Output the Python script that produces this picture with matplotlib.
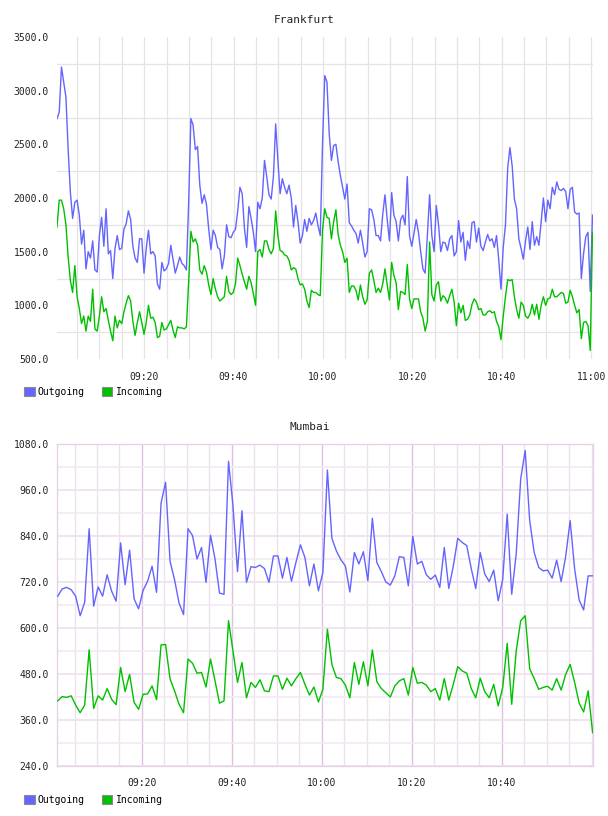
import matplotlib
matplotlib.use("Agg")
import matplotlib.pyplot as plt
import matplotlib.dates as mdates
from matplotlib.patches import Patch
from matplotlib.ticker import FixedLocator, FormatStrFormatter
import numpy as np
import pandas as pd

BLUE = '#6464ff'
GREEN = '#00c000'
MONO = 'DejaVu Sans Mono'

# Frankfurt, one sample every ~30 s from 09:00:30 to 11:00
frankfurt_out = [
    2740, 2800, 3220, 3080, 2940, 2450, 2050, 1810, 1960, 1980,
    1840, 1570, 1700, 1340, 1500, 1440, 1600, 1330, 1310, 1650,
    1820, 1550, 1900, 1480, 1510, 1250, 1530, 1650, 1520, 1530,
    1710, 1760, 1880, 1800, 1550, 1440, 1400, 1620, 1620, 1300,
    1530, 1700, 1480, 1500, 1460, 1200, 1150, 1400, 1320, 1340,
    1390, 1560, 1430, 1300, 1370, 1450, 1390, 1370, 1330, 1950,
    2740, 2680, 2450, 2480, 2120, 1950, 2030, 1940, 1710, 1520,
    1700, 1650, 1540, 1520, 1340, 1460, 1750, 1640, 1630, 1680,
    1710, 1880, 2100, 2040, 1720, 1540, 1920, 1810, 1680, 1500,
    1960, 1900, 2000, 2350, 2200, 2030, 1990, 2200, 2690, 2350,
    2040, 2180, 2100, 2040, 2120, 2000, 1730, 1930, 1780, 1580,
    1650, 1800, 1690, 1810, 1750, 1790, 1860, 1740, 1650, 2500,
    3140, 3080, 2600, 2350, 2490, 2500, 2340, 2210, 2100, 1990,
    2130, 1770, 1740, 1700, 1670, 1580, 1700, 1580, 1450, 1500,
    1900, 1890, 1800, 1650, 1650, 1600, 1850, 2030, 1800, 1600,
    2050, 1840, 1780, 1600, 1800, 1840, 1750, 2200, 1650, 1550,
    1670, 1800, 1680, 1500, 1340, 1300, 1650, 2030, 1650, 1500,
    1930, 1750, 1500, 1590, 1580, 1510, 1620, 1650, 1460, 1500,
    1790, 1590, 1680, 1420, 1600, 1530, 1770, 1780, 1590, 1720,
    1550, 1510, 1590, 1660, 1600, 1620, 1540, 1650, 1420, 1150,
    1540, 1750, 2280, 2470, 2300, 1990, 1900, 1620, 1530, 1430,
    1600, 1730, 1520, 1780, 1560, 1640, 1560, 1780, 2000, 1780,
    1980, 1900, 2100, 2030, 2150, 2080, 2070, 2090, 2060, 1900,
    2080, 2100, 1870, 1850, 1860, 1250, 1480, 1640, 1680, 1130, 1840,
]
frankfurt_in = [
    1730, 1980, 1980, 1900, 1750, 1450, 1230, 1120, 1370, 1080,
    970, 830, 900, 760, 900, 850, 1150, 780, 760, 900,
    1080, 940, 970, 860, 760, 670, 900, 790, 860, 830,
    940, 1020, 1090, 1040, 850, 720, 840, 940, 840, 730,
    840, 1000, 880, 890, 840, 700, 710, 840, 770, 780,
    820, 860, 770, 700, 800, 790, 790, 780, 800, 1220,
    1690, 1590, 1620, 1560, 1330, 1290, 1370, 1310, 1190, 1100,
    1250, 1150, 1080, 1040, 1060, 1080, 1270, 1130, 1100, 1120,
    1200, 1440, 1370, 1290, 1220, 1150, 1270, 1210, 1110, 1000,
    1500, 1520, 1450, 1600, 1600, 1520, 1480, 1530, 1880, 1650,
    1510, 1500, 1470, 1460, 1420, 1330, 1350, 1340, 1250, 1190,
    1200, 1150, 1040, 980, 1140, 1120, 1120, 1100, 1090, 1700,
    1900, 1820, 1810, 1620, 1780, 1890, 1660, 1560, 1500, 1400,
    1440, 1120, 1180, 1180, 1140, 1050, 1190, 1080, 1010, 1050,
    1300, 1330, 1230, 1120, 1160, 1120, 1200, 1340, 1190, 1050,
    1400, 1280, 1210, 960, 1130, 1120, 1100, 1380, 1060, 970,
    1060, 1060, 1060, 940, 880, 760, 850, 1590, 1100, 1040,
    1190, 1220, 1040, 1090, 1070, 1020, 1090, 1150, 1030, 810,
    1020, 930, 1000, 860, 870, 910, 1010, 1060, 1030, 960,
    970, 910, 910, 940, 950, 930, 940, 850, 800, 680,
    900, 1080, 1240, 1230, 1240, 1080, 960, 880, 1030, 1000,
    900, 880, 920, 1010, 910, 1010, 870, 1000, 1080, 1000,
    1060, 1070, 1150, 1080, 1080, 1100, 1120, 1110, 1020, 1030,
    1140, 1080, 1000, 930, 960, 690, 840, 850, 810, 580, 1680,
]

# Mumbai, one sample per minute from 09:01 to 11:00
mumbai_out = [
    683, 702, 706, 700, 683, 632, 667, 859, 657, 707,
    683, 739, 696, 670, 822, 713, 803, 676, 650, 698,
    722, 761, 693, 926, 980, 774, 726, 665, 635, 859,
    841, 780, 810, 719, 842, 780, 691, 688, 1035, 919,
    747, 906, 719, 760, 758, 764, 755, 719, 788, 788,
    730, 784, 722, 771, 817, 784, 710, 767, 697, 745,
    1012, 834, 801, 778, 762, 694, 797, 767, 799, 723,
    886, 771, 747, 720, 712, 736, 786, 784, 710, 839,
    767, 774, 739, 727, 738, 706, 810, 703, 761, 834,
    823, 815, 755, 703, 797, 741, 721, 751, 671, 727,
    897, 688, 793, 989, 1063, 880, 797, 758, 749, 751,
    730, 777, 721, 786, 880, 754, 673, 647, 736, 736,
]
mumbai_in = [
    410, 421, 419, 423, 399, 379, 399, 543, 390, 423,
    412, 442, 414, 400, 497, 434, 479, 406, 388, 427,
    428, 449, 413, 556, 557, 467, 436, 401, 379, 519,
    508, 482, 484, 446, 519, 462, 404, 410, 619, 540,
    458, 510, 418, 458, 445, 465, 436, 434, 475, 475,
    440, 469, 449, 468, 484, 453, 425, 446, 407, 440,
    597, 505, 471, 468, 451, 418, 510, 453, 512, 449,
    543, 460, 442, 431, 420, 449, 462, 468, 425, 497,
    456, 458, 451, 434, 442, 412, 468, 412, 453, 499,
    488, 482, 442, 418, 469, 434, 418, 453, 397, 445,
    560, 401, 540, 619, 632, 494, 468, 440, 445, 448,
    438, 468, 438, 479, 505, 458, 404, 381, 436, 327,
]

series_names = ['Outgoing', 'Incoming']

day = '2014-03-10 '
fra_times = pd.date_range(day + '09:00:30', day + '11:00:18', periods=len(frankfurt_out))
mum_times = pd.date_range(day + '09:01:15', day + '11:00:15', periods=len(mumbai_out))


def t(s):
    return mdates.date2num(pd.Timestamp(day + s))


fig = plt.figure(figsize=(6.08, 8.16), dpi=100)
ax1 = fig.add_axes([57 / 608, 1 - 359 / 816, 536 / 608, 322 / 816])
ax2 = fig.add_axes([57 / 608, 1 - 766 / 816, 536 / 608, 322 / 816])

for ax, title, title_x, times, out, inc in [
        (ax1, 'Frankfurt', 0.461, fra_times, frankfurt_out, frankfurt_in),
        (ax2, 'Mumbai', 0.472, mum_times, mumbai_out, mumbai_in)]:
    ax.plot(times, out, color=BLUE, linewidth=1.0, zorder=3)
    ax.plot(times, inc, color=GREEN, linewidth=1.0, zorder=3)
    ax.set_title(title, fontsize=8, family=MONO, color='#222222', pad=10, x=title_x)
    ax.xaxis.set_major_formatter(mdates.DateFormatter('%H:%M'))
    ax.xaxis.set_minor_locator(mdates.MinuteLocator(byminute=range(0, 60, 5)))
    ax.yaxis.set_major_formatter(FormatStrFormatter('%.1f'))
    ax.tick_params(which='both', length=0, labelsize=7, labelcolor='#222222')
    ax.tick_params(axis='y', pad=6)
    ax.tick_params(axis='x', pad=9)
    for lab in ax.get_xticklabels() + ax.get_yticklabels():
        lab.set_family(MONO)
    ax.set_axisbelow(True)

# Frankfurt styling
ax1.set_xlim(t('09:00:30'), t('11:00:25'))
ax1.set_ylim(500, 3500)
ax1.xaxis.set_major_locator(mdates.MinuteLocator(byminute=[0, 20, 40]))
ax1.yaxis.set_major_locator(FixedLocator(np.arange(500, 3501, 500)))
ax1.yaxis.set_minor_locator(FixedLocator(np.arange(750, 3300, 500)))
ax1.grid(which='both', axis='x', color='#e4e4e4', linewidth=0.9)
ax1.grid(which='minor', axis='y', color='#e4e4e4', linewidth=0.9)
for s in ax1.spines.values():
    s.set_visible(False)

# Mumbai styling
ax2.set_xlim(t('09:01:06'), t('11:00:20'))
ax2.set_ylim(240, 1080)
ax2.xaxis.set_major_locator(FixedLocator([t(s) for s in
                                          ['09:20', '09:40', '10:00', '10:20', '10:40']]))
ax2.yaxis.set_major_locator(FixedLocator(np.arange(240, 1081, 120)))
ax2.yaxis.set_minor_locator(FixedLocator(np.arange(300, 1030, 120)))
ax2.grid(which='major', axis='x', color='#dcc2dc', linewidth=1)
ax2.grid(which='minor', axis='x', color='#ebe2eb', linewidth=1)
ax2.grid(which='major', axis='y', color='#efdfef', linewidth=1.2)
ax2.grid(which='minor', axis='y', color='#f3eaf3', linewidth=1.2)
for s in ax2.spines.values():
    s.set_color('#e6d2e6')
    s.set_linewidth(1)

for ypos in [1 - 392 / 816, 1 - 800 / 816]:
    handles = [Patch(facecolor=c, edgecolor='#8a8a8a', linewidth=0.8)
               for c in [BLUE, GREEN]]
    fig.legend(handles, series_names, loc='center left',
               bbox_to_anchor=(20 / 608, ypos), ncol=2, frameon=False,
               handlelength=1.1, handleheight=1.1, handletextpad=0.35,
               columnspacing=1.7, borderaxespad=0,
               prop={'family': MONO, 'size': 7})

fig.savefig('out.png', dpi=100, facecolor='white')
